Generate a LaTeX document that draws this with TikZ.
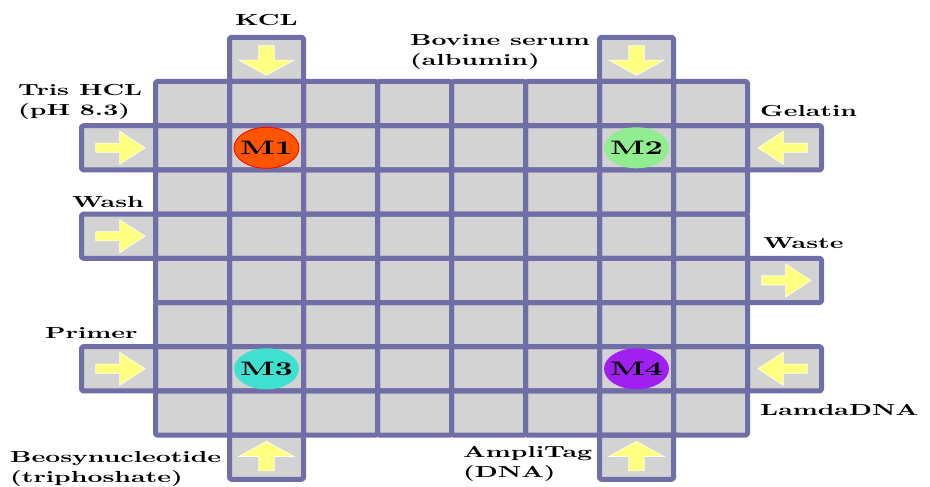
\documentclass[tikz,border=0pt]{standalone}
\usepackage{fontspec}
\usetikzlibrary{shapes.geometric}

\newfontfamily\chipfont[FakeStretch=1.63]{lmroman10-bold.otf}

\definecolor{wall}{RGB}{112,110,166}
\definecolor{floor}{RGB}{211,211,211}
\definecolor{flow}{RGB}{255,255,128}
\definecolor{mixA}{RGB}{255,85,0}
\definecolor{mixB}{RGB}{144,238,144}
\definecolor{mixC}{RGB}{64,224,208}
\definecolor{mixD}{RGB}{160,32,240}

\tikzset{
  electrode/.style={draw=wall, line width=5pt, rounded corners=1.5pt, line join=round},
  flowarrow/.style={fill=flow, draw=white, line width=0.6pt},
  mixer/.style={ellipse, minimum width=65pt, minimum height=41pt,
    inner xsep=-6pt, inner ysep=0pt,
    font=\chipfont\fontsize{19.5}{20}\selectfont},
  reagent/.style={font=\chipfont\fontsize{16}{20}\selectfont, inner sep=0pt,
    align=left, anchor=base west},
}

% one corner of an inlet arrow: along, across (in cell units)
\newcommand{\apt}[2]{({\arrcx+(#1)*\arrdx-(#2)*\arrdy},{\arrcy+(#1)*\arrdy+(#2)*\arrdx})}
% inlet arrow: column, row, dx, dy
\newcommand{\inlet}[4]{%
  \def\arrcx{(#1+.5)}\def\arrcy{(#2+.5)}\def\arrdx{(#3)}\def\arrdy{(#4)}%
  \filldraw[flowarrow] \apt{-.31}{.105} -- \apt{.015}{.105} -- \apt{.015}{.375}
    -- \apt{.36}{0} -- \apt{.015}{-.375} -- \apt{.015}{-.105}
    -- \apt{-.31}{-.105} -- cycle;}

\begin{document}
\begin{tikzpicture}[x=1pt, y=-1pt]
  \useasboundingbox (0,0) rectangle (930,487);

  % electrode array, 8x8 plus the reservoirs round it
  \begin{scope}[shift={(155.5,81.5)}, x=74pt, y=-44.2pt]
    \def\ports{1/-1, 6/-1, -1/1, -1/3, -1/6, 8/1, 8/4, 8/6, 1/8, 6/8}
    \foreach \c in {0,...,7}
      \foreach \r in {0,...,7}
        \fill[floor] (\c,\r) rectangle ++(1,1);
    \foreach \c/\r in \ports
      \fill[floor] (\c,\r) rectangle ++(1,1);
    \foreach \c in {0,...,7}
      \foreach \r in {0,...,7}
        \draw[electrode] (\c,\r) rectangle ++(1,1);
    \foreach \c/\r in \ports
      \draw[electrode] (\c,\r) rectangle ++(1,1);

    % flow direction at each reservoir
    \inlet{1}{-1}{0}{1}
    \inlet{6}{-1}{0}{1}
    \inlet{-1}{1}{1}{0}
    \inlet{-1}{3}{1}{0}
    \inlet{-1}{6}{1}{0}
    \inlet{8}{1}{-1}{0}
    \inlet{8}{4}{1}{0}
    \inlet{8}{6}{-1}{0}
    \inlet{1}{8}{0}{-1}
    \inlet{6}{8}{0}{-1}

    % mixers
    \node[mixer, fill=mixA, draw=red, line width=0.8pt] (m1) at (1.5,1.5) {M1};
    \node[mixer, fill=mixB] (m2) at (6.5,1.5) {M2};
    \node[mixer, fill=mixC] (m3) at (1.5,6.5) {M3};
    \node[mixer, fill=mixD] (m4) at (6.5,6.5) {M4};
  \end{scope}

  % reagents (two-line names sit on their last baseline)
  \node[reagent] (kcl) at (235,26) {KCL};
  \node[reagent] (bsa) at (410,66) {Bovine serum\\(albumin)};
  \node[reagent] (tris) at (18,115) {Tris HCL\\(pH 8.3)};
  \node[reagent] (gelatin) at (760,117) {Gelatin};
  \node[reagent] (wash) at (72,207) {Wash};
  \node[reagent] (waste) at (763,248) {Waste};
  \node[reagent] (primer) at (45,338) {Primer};
  \node[reagent] (lamda) at (760,415) {LamdaDNA};
  \node[reagent] (dntp) at (10,482) {Beosynucleotide\\(triphoshate)};
  \node[reagent] (taq) at (463,477) {AmpliTag\\(DNA)};
\end{tikzpicture}
\end{document}
